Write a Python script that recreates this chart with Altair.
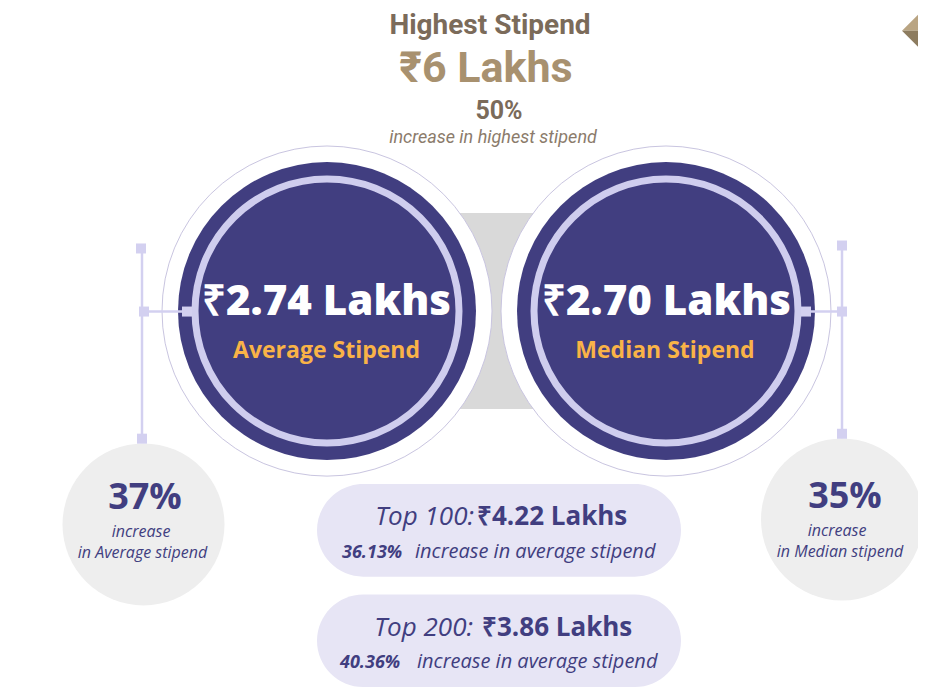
import altair as alt
import pandas as pd

# ---------------- values ----------------
title_text = "Highest Stipend"
highest_value = "₹6 Lakhs"
highest_growth = "50%"
highest_growth_label = "increase in highest stipend"

stipend_values = ["₹2.74 Lakhs", "₹2.70 Lakhs"]
stipend_labels = ["Average Stipend", "Median Stipend"]

growth_values = ["37%", "35%"]
growth_line1 = ["increase", "increase"]
growth_line2 = ["in Average  stipend", "in Median stipend"]

top_labels = ["Top 100:", "Top 200:"]
top_values = ["₹4.22 Lakhs", "₹3.86 Lakhs"]
top_growth = ["36.13%", "40.36%"]
top_growth_label = ["increase in average stipend", "increase in average stipend"]

# ---------------- layout (reference pixel space) ----------------
BIG_CX = [327, 666]
BIG_CY = [307.5, 307.5]
SMALL_CX = [143.5, 842]
SMALL_CY = [524, 519]

NAVY = "#413e80"
LAV = "#d3d0f0"
TAN_DARK = "#7b6b5a"
TAN = "#a8916f"
ORANGE = "#f9b347"
FONT = "Open Sans"
HEAD_FONT = "Roboto"

XS = alt.Scale(domain=[8, 918], nice=False, zero=False)
YS = alt.Scale(domain=[0, 692], nice=False, zero=False, reverse=True)


def xy(df):
    return dict(x=alt.X("x:Q", scale=XS, axis=None), y=alt.Y("y:Q", scale=YS, axis=None))


def text_layer(texts, xs, ys, size, color, weight="normal", style="normal", align="center", font=FONT):
    df = pd.DataFrame({"x": xs, "y": ys, "t": texts})
    return alt.Chart(df).mark_text(
        font=font, fontSize=size, fontWeight=weight, fontStyle=style,
        color=color, align=align, baseline="alphabetic"
    ).encode(text="t:N", **xy(df))


def circle_layer(xs, ys, r, fill="transparent", stroke="transparent", sw=0):
    df = pd.DataFrame({"x": xs, "y": ys})
    return alt.Chart(df).mark_point(
        shape="circle", size=(2 * r) ** 2, filled=True, fill=fill,
        stroke=stroke, strokeWidth=sw, opacity=1
    ).encode(**xy(df))


def rect_layer(x1, x2, y1, y2, color, radius=0):
    df = pd.DataFrame({"x": x1, "x2": x2, "y": y1, "y2": y2})
    return alt.Chart(df).mark_rect(color=color, cornerRadius=radius, opacity=1).encode(
        x=alt.X("x:Q", scale=XS, axis=None), x2="x2:Q",
        y=alt.Y("y:Q", scale=YS, axis=None), y2="y2:Q")


def rule_layer(x1, x2, y1, y2, color, w):
    df = pd.DataFrame({"x": x1, "x2": x2, "y": y1, "y2": y2})
    return alt.Chart(df).mark_rule(color=color, strokeWidth=w).encode(
        x=alt.X("x:Q", scale=XS, axis=None), x2="x2:Q",
        y=alt.Y("y:Q", scale=YS, axis=None), y2="y2:Q")


def square_layer(xs, ys, side, color):
    df = pd.DataFrame({"x": xs, "y": ys})
    return alt.Chart(df).mark_point(shape="square", size=side ** 2, filled=True,
                                    color=color, opacity=1).encode(**xy(df))


layers = []
# gray connector band between big circles
layers.append(rect_layer([440], [560], [208], [407], "#d9d9d9"))
# big circles
layers.append(circle_layer(BIG_CX, BIG_CY, 165, fill="white", stroke="#c9c5e0", sw=1))
layers.append(circle_layer(BIG_CX, BIG_CY, 149, fill=NAVY))
layers.append(circle_layer(BIG_CX, BIG_CY, 132, stroke="#cfcdee", sw=7))
# small grey circles
layers.append(circle_layer(SMALL_CX, SMALL_CY, 81, fill="#eeeeee"))
# pills
layers.append(rect_layer([317, 317], [681, 681], [483, 595], [577, 689], "#e7e5f5", radius=47))
# connectors
layers.append(rule_layer([142, 144, 842, 806], [142, 187, 842, 842],
                         [244, 308, 241, 308], [437, 308, 432, 308], LAV, 2.5))
layers.append(square_layer([141, 144, 187, 142, 842, 842, 806, 842],
                           [244, 308, 308, 437, 241, 308, 308, 432], 10, LAV))

# header texts
layers.append(text_layer([title_text], [490], [26.5], 28, TAN_DARK, weight="bold", font=HEAD_FONT))
layers.append(text_layer([highest_value], [486], [75], 43, TAN, weight="bold", font=HEAD_FONT))
layers.append(text_layer([highest_growth], [499], [113], 25, TAN_DARK, weight="bold", font=HEAD_FONT))
layers.append(text_layer([highest_growth_label], [493], [137], 18, "#8b7b6b", style="italic", font=HEAD_FONT))

# big circle texts
layers.append(text_layer(stipend_values, [326.5, 666.5], [312, 311], 42, "white", weight=800))
layers.append(text_layer(stipend_labels, [326.5, 665], [355, 355], 23, ORANGE, weight="bold"))

# small circle texts
layers.append(text_layer(growth_values, [145, 845], [508, 507], 36, NAVY, weight="bold"))
layers.append(text_layer(growth_line1, [141, 837], [537, 536], 16, NAVY, style="italic"))
layers.append(text_layer(growth_line2, [142.5, 840], [558, 557], 16, NAVY, style="italic"))

# pill texts
layers.append(text_layer(top_labels, [474, 473], [525, 637], 26, NAVY, style="italic", align="right"))
layers.append(text_layer(top_values, [477, 482], [525, 637], 26, NAVY, weight="bold", align="left"))
layers.append(text_layer(top_growth, [342, 340], [558, 670], 18, NAVY, weight="bold", style="italic", align="left"))
layers.append(text_layer(top_growth_label, [415, 417], [558, 670], 20, NAVY, style="italic", align="left"))

# corner diamond
dia = pd.DataFrame({"x": [924], "y": [23]})
layers.append(alt.Chart(dia).mark_point(shape="M-1,0L0,-1L1,0Z", size=44 ** 2, filled=True,
                                        color="#b9a482", opacity=1).encode(**xy(dia)))
layers.append(alt.Chart(dia).mark_point(shape="M-1,0L0,1L1,0Z", size=44 ** 2, filled=True,
                                        color="#8d7c5f", opacity=1).encode(**xy(dia)))

chart = alt.layer(*layers).properties(
    width=910, height=682, padding=0, background="white",
    autosize=alt.AutoSizeParams(type="none")
).configure_view(stroke=None)

chart.save("out.html", embed_options={"renderer": "svg", "actions": False})
